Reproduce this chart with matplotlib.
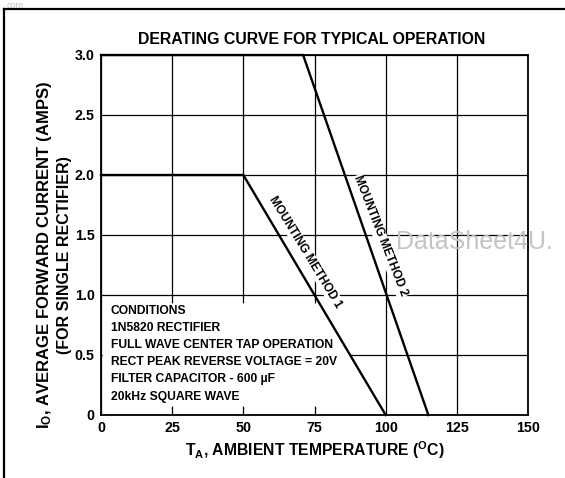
import matplotlib
matplotlib.use("Agg")
import matplotlib.pyplot as plt
from matplotlib.patches import Polygon
from matplotlib.lines import Line2D

plt.rcParams['font.family'] = ['Liberation Sans', 'DejaVu Sans']
plt.rcParams['font.weight'] = 'bold'
plt.rcParams['mathtext.fontset'] = 'custom'
plt.rcParams['mathtext.rm'] = 'Liberation Sans:bold'
plt.rcParams['mathtext.bf'] = 'Liberation Sans:bold'
plt.rcParams['mathtext.it'] = 'Liberation Sans:bold'
plt.rcParams['mathtext.default'] = 'bf'

# ---- data ----
method1_temp = [0, 50, 100]
method1_current = [2.0, 2.0, 0.0]
method2_temp = [0, 71, 115]
method2_current = [3.0, 3.0, 0.0]
x_ticks = [0, 25, 50, 75, 100, 125, 150]
y_ticks = [0, 0.5, 1.0, 1.5, 2.0, 2.5, 3.0]
y_tick_labels = ["0", "0.5", "1.0", "1.5", "2.0", "2.5", "3.0"]
conditions = ["CONDITIONS",
              "1N5820 RECTIFIER",
              "FULL WAVE CENTER TAP OPERATION",
              "RECT PEAK REVERSE VOLTAGE = 20V",
              "FILTER CAPACITOR - 600 \u00b5F",
              "20kHz SQUARE WAVE"]

W, H = 565, 478
fig = plt.figure(figsize=(W / 100, H / 100), dpi=100)
ax = fig.add_axes([101 / W, 1 - 415 / H, 427 / W, 360 / H])

ax.set_xlim(0, 150)
ax.set_ylim(0, 3.0)
ax.set_xticks(x_ticks)
ax.set_xticklabels([str(t) for t in x_ticks])
ax.set_yticks(y_ticks)
ax.set_yticklabels(y_tick_labels)
ax.tick_params(length=0, labelsize=10.3, pad=4.5)
for lab in ax.get_xticklabels() + ax.get_yticklabels():
    lab.set_fontweight('bold')
ax.set_axisbelow(True)
ax.grid(True, color='black', lw=0.9)
for s in ax.spines.values():
    s.set_linewidth(1.3)

# white area behind the conditions text (grid hidden there)
ax.add_patch(Polygon([(0.6, 0.07), (100 - 0.07 * 25, 0.07),
                      (100 - 0.93 * 25, 0.93), (0.6, 0.93)],
                     closed=True, facecolor='white', edgecolor='none', zorder=1))

ax.plot(method1_temp, method1_current, color='black', lw=1.7, zorder=3, clip_on=False)
ax.plot(method2_temp, method2_current, color='black', lw=1.7, zorder=3, clip_on=False)

bb = dict(facecolor='white', edgecolor='none', pad=0.6)
ax.text(71.7, 1.36, "MOUNTING METHOD 1", rotation=-58.5, rotation_mode='anchor',
        ha='center', va='center', fontsize=8.6, fontweight='bold', bbox=bb, zorder=2)
ax.text(98.0, 1.49, "MOUNTING METHOD 2", rotation=-68.5, rotation_mode='anchor',
        ha='center', va='center', fontsize=8.6, fontweight='bold', bbox=bb, zorder=2)

cond_y = [0.867, 0.725, 0.583, 0.44, 0.30, 0.15]
for t, yy in zip(conditions, cond_y):
    ax.text(3.5, yy, t, ha='left', va='center', fontsize=8.7, fontweight='bold', zorder=2)

ax.set_xlabel("T$_{A}$, AMBIENT TEMPERATURE ($^{O}$C)", fontsize=11.3,
              fontweight='bold', labelpad=3)
fig.text(45 / W, 1 - 255 / H, "I$_{O}$, AVERAGE FORWARD CURRENT (AMPS)",
         rotation=90, ha='center', va='center', fontsize=12, fontweight='bold')
fig.text(65 / W, 1 - 255 / H, "(FOR SINGLE RECTIFIER)",
         rotation=90, ha='center', va='center', fontsize=11.5, fontweight='bold')
fig.text(312 / W, 1 - 40 / H, "DERATING CURVE FOR TYPICAL OPERATION",
         ha='center', va='center', fontsize=11.4, fontweight='bold')

# outer frame
fig.add_artist(Line2D([4 / W, 1.0], [1 - 9 / H, 1 - 9 / H], color='black', lw=1.6))
fig.add_artist(Line2D([4 / W, 4 / W], [0, 1 - 9 / H], color='black', lw=1.6))

# watermarks
fig.text(396 / W, 1 - 242 / H, "DataSheet4U.", ha='left', va='center',
         fontsize=18, fontweight='normal', color='#c4c4c4')
fig.text(7 / W, 1 - 0.5 / H, "com", ha='left', va='top',
         fontsize=6.5, fontweight='normal', color='#c4c4c4')

fig.savefig("out.png", dpi=100)
